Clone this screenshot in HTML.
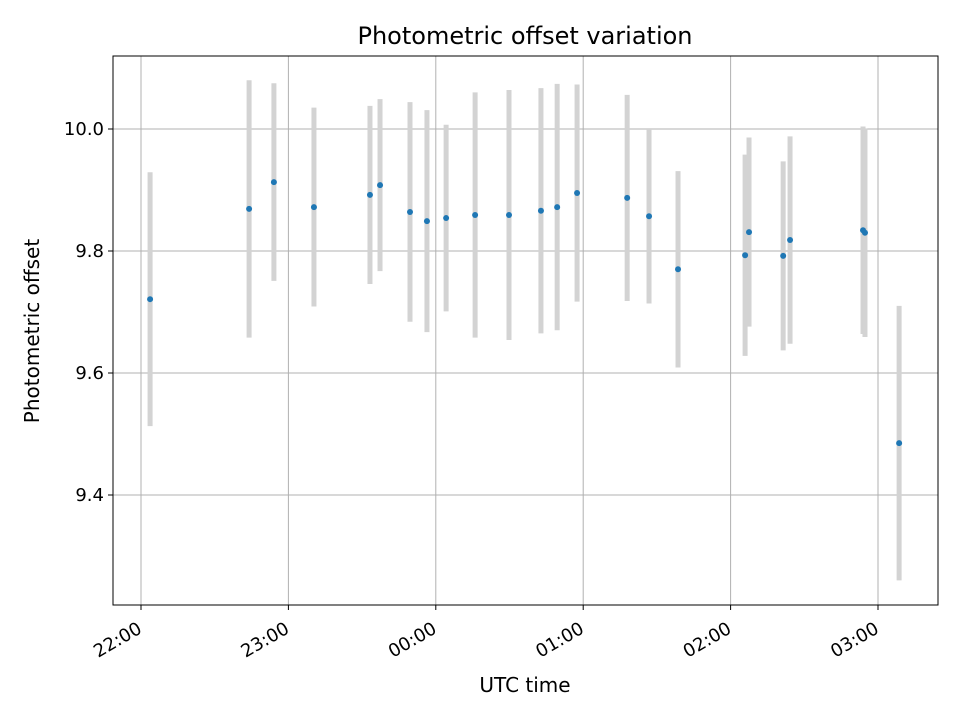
<!DOCTYPE html>
<html><head><meta charset="utf-8"><style>
body{margin:0;background:#fff}
svg text{font-family:"DejaVu Sans","Liberation Sans",sans-serif;fill:#000}
</style></head><body>
<svg id="chart" width="960" height="720">
<rect width="960" height="720" fill="#fff"/>
<g id="grid"></g><g id="bars"></g><g id="pts"></g>
<rect x="113" y="56" width="825" height="549" fill="none" stroke="#000" stroke-width="1"/>
<g id="axes"></g>
<text x="525" y="44" font-size="24" text-anchor="middle">Photometric offset variation</text>
<text x="525" y="692" font-size="20" text-anchor="middle">UTC time</text>
<text transform="translate(39,331) rotate(-90)" font-size="20" text-anchor="middle">Photometric offset</text>
</svg>
<script>
// minutes after 22:00 UTC
const times=[3.7,44.0,54.1,70.4,93.2,97.3,109.5,116.4,124.2,136.0,149.8,162.8,169.4,177.5,197.9,206.8,218.6,245.9,247.5,261.4,264.2,293.9,294.7,308.6];
const offsets=[9.721,9.869,9.913,9.872,9.892,9.908,9.864,9.849,9.854,9.859,9.859,9.866,9.872,9.895,9.887,9.857,9.770,9.793,9.831,9.792,9.818,9.834,9.830,9.485];
const errors=[0.208,0.211,0.162,0.163,0.146,0.141,0.180,0.182,0.153,0.201,0.205,0.201,0.202,0.178,0.169,0.143,0.161,0.165,0.155,0.155,0.170,0.170,0.171,0.225];
const yTicks=[9.4,9.6,9.8,10.0];
const xTickMinutes=[0,60,120,180,240,300];
const xTickLabels=["22:00","23:00","00:00","01:00","02:00","03:00"];
const NS="http://www.w3.org/2000/svg";
const X=m=>141+m*147.4/60;
const Y=v=>129+(10-v)*610;
function mk(tag,attrs,parent){const e=document.createElementNS(NS,tag);for(const k in attrs)e.setAttribute(k,attrs[k]);document.getElementById(parent).appendChild(e);return e;}
yTicks.forEach((t,i)=>{
 const y=Y(t);
 let g=mk('line',{x1:113,x2:938,y1:y,y2:y,stroke:'#b0b0b0','stroke-width':1},'grid');
 
 mk('line',{x1:108,x2:113,y1:y,y2:y,stroke:'#000'},'axes');
 let tx=mk('text',{x:104,y:y+6,'font-size':18,'text-anchor':'end'},'axes');tx.textContent=t.toFixed(1);
 
});
xTickMinutes.forEach((m,i)=>{
 const x=X(m);
 let g=mk('line',{x1:x,x2:x,y1:56,y2:605,stroke:'#b0b0b0','stroke-width':1},'grid');
 
 mk('line',{x1:x,x2:x,y1:605,y2:610,stroke:'#000'},'axes');
 let tx=mk('text',{transform:`translate(${x+2},${632}) rotate(-30)`,'font-size':18,'text-anchor':'end'},'axes');tx.textContent=xTickLabels[i];
 
});
times.forEach((m,i)=>{
 const x=X(m);
 let b=mk('line',{x1:x,x2:x,y1:Y(offsets[i]+errors[i]),y2:Y(offsets[i]-errors[i]),stroke:'#d3d3d3','stroke-width':5},'bars');
 
 let c=mk('circle',{cx:x,cy:Y(offsets[i]),r:3,fill:'#1f77b4'},'pts');
 
});
</script>
</body></html>
